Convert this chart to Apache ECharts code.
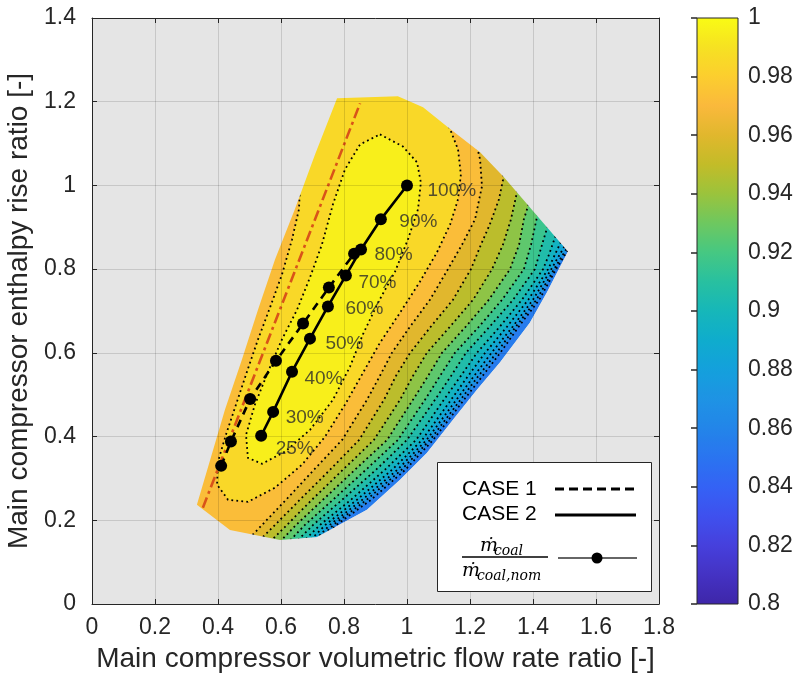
<!DOCTYPE html>
<html><head><meta charset="utf-8">
<script src="https://cdn.jsdelivr.net/npm/echarts@6/dist/echarts.min.js"></script>
<style>html,body{margin:0;padding:0;background:#fff}#c{width:810px;height:682px}</style>
</head><body><div id="c"></div>
<script>
// ---------------- DATA ----------------
const X_RANGE = [0, 1.8];
const Y_RANGE = [0, 1.4];
const COLORBAR_RANGE = [0.8, 1.0];

// Operating points, CASE 1 (dashed) and CASE 2 (solid)
const CASE1 = [[0.410,0.330],[0.441,0.388],[0.502,0.490],[0.584,0.581],[0.670,0.670],[0.752,0.756],[0.832,0.837]];
const CASE2 = [[0.537,0.402],[0.575,0.459],[0.635,0.555],[0.692,0.634],[0.749,0.711],[0.806,0.785],[0.854,0.847],[0.917,0.919],[1.000,1.000]];
const LOAD_LABELS = ['25%','30%','40%','50%','60%','70%','80%','90%','100%'];

// Surge (dash-dot) line
const SURGE_LINE = [[0.352,0.230],[0.851,1.196]];

// Operating envelope of the compressor map
const ENVELOPE = [[0.333,0.237],[0.375,0.344],[0.422,0.464],[0.476,0.584],[0.527,0.703],[0.581,0.823],[0.644,0.943],[0.708,1.074],[0.778,1.208],[0.971,1.213],[1.051,1.187],[1.127,1.141],[1.232,1.079],[1.305,1.022],[1.368,0.967],[1.432,0.911],[1.511,0.842],[1.486,0.806],[1.444,0.744],[1.390,0.672],[1.295,0.577],[1.222,0.512],[1.146,0.440],[1.063,0.361],[0.978,0.297],[0.873,0.225],[0.714,0.160],[0.597,0.153],[0.438,0.177]];

// Efficiency contour lines (one array per level)
const CONTOUR_LEVELS = [0.98,0.97,0.96,0.95,0.94,0.93,0.92,0.91,0.90,0.89,0.88,0.87,0.86];
const C_098 = [[0.914,1.122],[0.987,1.093],[1.032,1.055],[1.044,1.007],[1.035,0.943],[1.003,0.871],[0.962,0.794],[0.908,0.720],[0.860,0.644],[0.819,0.567],[0.765,0.488],[0.692,0.416],[0.613,0.364],[0.540,0.335],[0.495,0.349],[0.489,0.404],[0.517,0.476],[0.559,0.555],[0.603,0.632],[0.651,0.703],[0.692,0.780],[0.730,0.859],[0.765,0.955],[0.803,1.038],[0.851,1.098]];
const C_097 = [[1.121,1.163],[1.137,1.134],[1.162,1.086],[1.171,1.026],[1.162,0.967],[1.137,0.907],[1.095,0.840],[1.041,0.770],[0.978,0.696],[0.914,0.624],[0.857,0.548],[0.803,0.476],[0.740,0.400],[0.667,0.333],[0.581,0.278],[0.495,0.244],[0.432,0.249],[0.397,0.285],[0.400,0.340],[0.425,0.404],[0.457,0.476],[0.492,0.555],[0.527,0.632],[0.565,0.708],[0.603,0.787],[0.635,0.871],[0.657,0.943],[0.660,0.990],[0.644,1.026],[0.613,1.050]];
const C_096 = [[1.219,1.103],[1.232,1.062],[1.238,0.998],[1.216,0.919],[1.175,0.859],[1.130,0.800],[1.073,0.727],[1.010,0.663],[0.952,0.600],[0.914,0.545],[0.873,0.488],[0.794,0.392],[0.705,0.321],[0.616,0.249],[0.540,0.189],[0.470,0.134]];
const C_095 = [[1.305,1.038],[1.305,1.014],[1.292,0.967],[1.263,0.907],[1.235,0.859],[1.203,0.800],[1.146,0.727],[1.076,0.663],[1.010,0.600],[0.965,0.545],[0.927,0.488],[0.848,0.392],[0.756,0.321],[0.660,0.249],[0.581,0.189],[0.508,0.134]];
const C_094 = [[1.352,1.000],[1.349,0.983],[1.330,0.919],[1.305,0.859],[1.270,0.800],[1.210,0.727],[1.137,0.663],[1.063,0.600],[1.019,0.545],[0.978,0.488],[0.895,0.392],[0.797,0.321],[0.698,0.249],[0.619,0.189],[0.546,0.134]];
const C_093 = [[1.390,0.967],[1.384,0.950],[1.371,0.919],[1.356,0.859],[1.327,0.800],[1.260,0.727],[1.187,0.663],[1.111,0.600],[1.067,0.545],[1.019,0.488],[0.937,0.392],[0.835,0.321],[0.733,0.249],[0.648,0.189],[0.578,0.134]];
const C_092 = [[1.422,0.943],[1.413,0.926],[1.394,0.859],[1.371,0.800],[1.302,0.727],[1.229,0.663],[1.152,0.600],[1.105,0.545],[1.057,0.488],[0.971,0.392],[0.870,0.321],[0.765,0.249],[0.676,0.189],[0.606,0.134]];
const C_091 = [[1.454,0.914],[1.444,0.897],[1.429,0.859],[1.406,0.800],[1.337,0.727],[1.263,0.663],[1.187,0.600],[1.140,0.545],[1.089,0.488],[1.000,0.392],[0.902,0.321],[0.794,0.249],[0.702,0.189],[0.629,0.134]];
const C_090 = [[1.479,0.890],[1.470,0.876],[1.451,0.835],[1.432,0.800],[1.365,0.727],[1.295,0.663],[1.222,0.600],[1.171,0.545],[1.117,0.488],[1.029,0.392],[0.930,0.321],[0.822,0.249],[0.724,0.189],[0.651,0.134]];
const C_089 = [[1.495,0.876],[1.486,0.861],[1.448,0.800],[1.385,0.727],[1.318,0.663],[1.248,0.600],[1.194,0.545],[1.140,0.488],[1.048,0.392],[0.953,0.321],[0.841,0.249],[0.741,0.189],[0.669,0.134]];
const C_088 = [[1.508,0.864],[1.498,0.852],[1.458,0.800],[1.400,0.727],[1.336,0.663],[1.268,0.600],[1.213,0.545],[1.157,0.488],[1.062,0.392],[0.970,0.321],[0.858,0.249],[0.755,0.189],[0.684,0.134]];
const C_087 = [[1.517,0.856],[1.505,0.847],[1.467,0.800],[1.411,0.727],[1.346,0.663],[1.284,0.600],[1.227,0.545],[1.170,0.488],[1.073,0.392],[0.983,0.321],[0.872,0.249],[0.766,0.189],[0.696,0.134]];
const C_086 = [[1.524,0.852],[1.508,0.842],[1.473,0.800],[1.420,0.727],[1.355,0.663],[1.296,0.600],[1.240,0.545],[1.181,0.488],[1.083,0.392],[0.995,0.321],[0.886,0.249],[0.776,0.189],[0.707,0.134]];
const ENVELOPE_MIN_LEVEL = 0.85;
// shade value seen inside each region (innermost first)
const BAND_SHADE = [0.995,0.985,0.972,0.960,0.948,0.937,0.926,0.916,0.906,0.896,0.886,0.876,0.866];

// ---------------- STYLE ----------------
const FONT = '"Liberation Sans", Arial, Helvetica, sans-serif';
const MATH = '"DejaVu Serif", "Liberation Serif", serif';
const INK = '#262626';
const PLOT_BG = '#e5e5e5';
const CMAP_STOPS = [
 [0.00,62,38,168],[0.05,68,50,195],[0.10,70,64,220],[0.15,63,80,238],[0.20,52,98,245],[0.25,42,116,240],
 [0.30,35,133,233],[0.35,30,147,228],[0.40,20,160,220],[0.45,15,172,205],[0.50,22,183,185],[0.55,40,192,160],
 [0.60,70,200,130],[0.65,110,200,95],[0.70,155,195,60],[0.75,195,188,40],[0.80,225,183,45],[0.85,250,185,60],
 [0.90,252,206,46],[0.95,246,226,34],[1.00,249,251,20]];
function cmap(v){
  let f = (v - COLORBAR_RANGE[0]) / (COLORBAR_RANGE[1] - COLORBAR_RANGE[0]);
  f = Math.max(0, Math.min(1, f));
  for (let i = 1; i < CMAP_STOPS.length; i++){
    const a = CMAP_STOPS[i-1], b = CMAP_STOPS[i];
    if (f <= b[0]){
      const t = (f - a[0]) / (b[0] - a[0]);
      return 'rgb(' + [1,2,3].map(k => Math.round(a[k] + (b[k]-a[k])*t)).join(',') + ')';
    }
  }
  const l = CMAP_STOPS[CMAP_STOPS.length-1];
  return 'rgb(' + l[1] + ',' + l[2] + ',' + l[3] + ')';
}

const CONTOURS = [C_098, C_097, C_096, C_095, C_094, C_093, C_092, C_091, C_090, C_089, C_088, C_087, C_086];
const LOOP = 0;       // closed innermost contour
const LEFT_EXIT = 1;  // second contour leaves through the left edge

// Region {eff >= level}: contour + closure lying outside the envelope (masked afterwards)
function regionPolygon(i){
  const pts = CONTOURS[i];
  const first = pts[0], last = pts[pts.length-1];
  const lo = -0.3, hiY = 1.7;
  if (i === LOOP) return pts;
  if (i === LEFT_EXIT) return pts.concat([[lo, last[1]], [lo, hiY], [first[0], hiY]]);
  return pts.concat([[last[0], lo], [lo, lo], [lo, hiY], [first[0], hiY]]);
}
const FILL_ORDER = [];
FILL_ORDER.push({poly: () => ENVELOPE, value: (ENVELOPE_MIN_LEVEL + CONTOUR_LEVELS[CONTOUR_LEVELS.length-1]) / 2});
for (let i = CONTOURS.length - 1; i >= 0; i--){
  FILL_ORDER.push({poly: () => regionPolygon(i), value: BAND_SHADE[i]});
}

function maskPolygon(){
  const lo = -0.3, hx = 2.1, hy = 1.7;
  const tip = ENVELOPE[0];
  const rev = [tip].concat(ENVELOPE.slice(1).reverse()).concat([tip]);
  return [[lo, hy], [hx, hy], [hx, lo], [lo, lo], [lo, tip[1]]].concat(rev).concat([[lo, tip[1]]]);
}

const LABEL_OFFSETS = [[14,13],[12,6],[12,7],[15,5],[17,2],[12,7],[13,5],[18,2],[20,5]];
const tickFmt = v => String(+(+v).toFixed(2));

const chart = echarts.init(document.getElementById('c'), null, {renderer: 'canvas'});
const option = {
  animation: false,
  backgroundColor: '#ffffff',
  grid: [
    {left: 92, top: 18, width: 567, height: 586, show: true, backgroundColor: PLOT_BG, borderWidth: 0, containLabel: false, outerBoundsMode: 'none'},
    {left: 697, top: 18, width: 41, height: 586, show: false, containLabel: false, outerBoundsMode: 'none'}
  ],
  xAxis: [
    {gridIndex: 0, type: 'value', min: X_RANGE[0], max: X_RANGE[1], interval: 0.2, position: 'bottom', z: 6,
     axisLine: {show: true, onZero: false, lineStyle: {color: INK, width: 1}},
     axisTick: {show: true, inside: true, length: 5, lineStyle: {color: INK}},
     axisLabel: {show: true, margin: 12, fontSize: 23, color: INK, fontFamily: FONT, formatter: tickFmt, showMinLabel: true, showMaxLabel: true},
     splitLine: {show: true, lineStyle: {color: 'rgba(0,0,0,0.13)', width: 1}},
     name: 'Main compressor volumetric flow rate ratio [-]', nameLocation: 'middle', nameGap: 41,
     nameTextStyle: {fontSize: 28, color: INK, fontFamily: FONT}},
    {gridIndex: 0, type: 'value', min: X_RANGE[0], max: X_RANGE[1], interval: 0.2, position: 'top', z: 6,
     axisLine: {show: true, onZero: false, lineStyle: {color: INK, width: 1}},
     axisTick: {show: true, inside: true, length: 5, lineStyle: {color: INK}},
     axisLabel: {show: false}, splitLine: {show: false}},
    {gridIndex: 1, type: 'value', min: 0, max: 1, show: false}
  ],
  yAxis: [
    {gridIndex: 0, type: 'value', min: Y_RANGE[0], max: Y_RANGE[1], interval: 0.2, position: 'left', z: 6,
     axisLine: {show: true, onZero: false, lineStyle: {color: INK, width: 1}},
     axisTick: {show: true, inside: true, length: 5, lineStyle: {color: INK}},
     axisLabel: {show: true, margin: 16, fontSize: 23, color: INK, fontFamily: FONT, formatter: tickFmt, showMinLabel: true, showMaxLabel: true},
     splitLine: {show: true, lineStyle: {color: 'rgba(0,0,0,0.13)', width: 1}},
     name: 'Main compressor enthalpy rise ratio [-]', nameLocation: 'middle', nameGap: 52,
     nameTextStyle: {fontSize: 28, color: INK, fontFamily: FONT}},
    {gridIndex: 0, type: 'value', min: Y_RANGE[0], max: Y_RANGE[1], interval: 0.2, position: 'right', z: 6,
     axisLine: {show: true, onZero: false, lineStyle: {color: INK, width: 1}},
     axisTick: {show: true, inside: true, length: 5, lineStyle: {color: INK}},
     axisLabel: {show: false}, splitLine: {show: false}},
    {gridIndex: 1, type: 'value', min: COLORBAR_RANGE[0], max: COLORBAR_RANGE[1], interval: 0.02, position: 'right', z: 6,
     axisLine: {show: false},
     axisTick: {show: true, inside: true, length: 6, lineStyle: {color: INK, width: 1.5}},
     axisLabel: {show: true, margin: 10, fontSize: 23, color: INK, fontFamily: FONT, formatter: tickFmt, showMinLabel: true, showMaxLabel: true},
     splitLine: {show: false}}
  ],
  series: [
    { // filled efficiency bands
      type: 'custom', xAxisIndex: 0, yAxisIndex: 0, z: 1, silent: true, clip: true,
      data: FILL_ORDER.map((_, i) => [i]),
      renderItem: (params, api) => {
        const r = FILL_ORDER[params.dataIndex];
        return {type: 'polygon', shape: {points: r.poly().map(p => api.coord(p))}, style: {fill: cmap(r.value), stroke: null}};
      }
    },
    { // dotted contour lines
      type: 'custom', xAxisIndex: 0, yAxisIndex: 0, z: 2, silent: true, clip: true,
      data: CONTOURS.map((_, i) => [i]),
      renderItem: (params, api) => {
        let pts = CONTOURS[params.dataIndex];
        if (params.dataIndex === LOOP) pts = pts.concat([pts[0]]);
        return {type: 'polyline', shape: {points: pts.map(p => api.coord(p))},
                style: {stroke: '#000', lineWidth: 1.8, lineDash: [1.8, 3.2], fill: null}};
      }
    },
    { // mask outside the envelope
      type: 'custom', xAxisIndex: 0, yAxisIndex: 0, z: 3, silent: true, clip: true,
      data: [[0]],
      renderItem: (params, api) => ({type: 'polygon', shape: {points: maskPolygon().map(p => api.coord(p))}, style: {fill: PLOT_BG, stroke: null}})
    },
    { // surge line
      type: 'line', xAxisIndex: 0, yAxisIndex: 0, z: 4, silent: true, data: SURGE_LINE, symbol: 'none',
      lineStyle: {color: '#D95319', width: 2.6, type: [11, 4, 3, 4]}
    },
    { // CASE 1
      type: 'line', name: 'CASE 1', xAxisIndex: 0, yAxisIndex: 0, z: 5, silent: true, data: CASE1,
      symbol: 'circle', symbolSize: 12, itemStyle: {color: '#000'},
      lineStyle: {color: '#000', width: 2.6, type: [8, 6]}
    },
    { // CASE 2
      type: 'line', name: 'CASE 2', xAxisIndex: 0, yAxisIndex: 0, z: 5, silent: true, data: CASE2,
      symbol: 'circle', symbolSize: 12, itemStyle: {color: '#000'},
      lineStyle: {color: '#000', width: 2.6, type: 'solid'}
    },
    { // load labels
      type: 'scatter', xAxisIndex: 0, yAxisIndex: 0, z: 7, silent: true,
      symbolSize: 1, itemStyle: {color: 'rgba(0,0,0,0)'},
      data: CASE2.map((p, i) => ({value: p, label: {formatter: LOAD_LABELS[i], offset: LABEL_OFFSETS[i]}})),
      label: {show: true, position: 'right', distance: 0, fontSize: 19, color: '#2b2b2b', fontFamily: FONT, align: 'left', verticalAlign: 'middle'}
    },
    { // colorbar
      type: 'custom', xAxisIndex: 2, yAxisIndex: 2, z: 1, silent: true,
      data: [COLORBAR_RANGE],
      renderItem: (params, api) => {
        const p0 = api.coord([0, COLORBAR_RANGE[1]]);
        const p1 = api.coord([1, COLORBAR_RANGE[0]]);
        const stops = [];
        for (let k = 0; k <= 60; k++){
          const v = COLORBAR_RANGE[1] - (COLORBAR_RANGE[1] - COLORBAR_RANGE[0]) * k / 60;
          stops.push({offset: k / 60, color: cmap(v)});
        }
        return {type: 'rect', shape: {x: p0[0], y: p0[1], width: p1[0] - p0[0], height: p1[1] - p0[1]},
                style: {fill: new echarts.graphic.LinearGradient(0, 0, 0, 1, stops), stroke: INK, lineWidth: 1}};
      }
    }
  ],
  graphic: {elements: [
    {type: 'rect', z: 100, shape: {x: 437.5, y: 462.5, width: 214, height: 129}, style: {fill: '#fff', stroke: INK, lineWidth: 1}},
    {type: 'text', z: 101, x: 462, y: 489, style: {text: 'CASE 1', fontSize: 21, fontFamily: FONT, fill: '#000', verticalAlign: 'middle'}},
    {type: 'text', z: 101, x: 462, y: 514, style: {text: 'CASE 2', fontSize: 21, fontFamily: FONT, fill: '#000', verticalAlign: 'middle'}},
    {type: 'line', z: 101, shape: {x1: 555, y1: 489, x2: 636, y2: 489}, style: {stroke: '#000', lineWidth: 3, lineDash: [9, 5]}},
    {type: 'line', z: 101, shape: {x1: 555, y1: 515, x2: 636, y2: 515}, style: {stroke: '#000', lineWidth: 3}},
    {type: 'text', z: 101, x: 480, y: 546, style: {text: 'ṁ', fontSize: 19, fontStyle: 'italic', fontFamily: MATH, fill: '#000', verticalAlign: 'middle'}},
    {type: 'text', z: 101, x: 494, y: 551, style: {text: 'coal', fontSize: 14, fontStyle: 'italic', fontFamily: MATH, fill: '#000', verticalAlign: 'middle'}},
    {type: 'line', z: 101, shape: {x1: 462, y1: 557, x2: 548, y2: 557}, style: {stroke: '#000', lineWidth: 1.5}},
    {type: 'text', z: 101, x: 462, y: 571, style: {text: 'ṁ', fontSize: 19, fontStyle: 'italic', fontFamily: MATH, fill: '#000', verticalAlign: 'middle'}},
    {type: 'text', z: 101, x: 477, y: 576, style: {text: 'coal,nom', fontSize: 14, fontStyle: 'italic', fontFamily: MATH, fill: '#000', verticalAlign: 'middle'}},
    {type: 'line', z: 101, shape: {x1: 558, y1: 558, x2: 637, y2: 558}, style: {stroke: '#333', lineWidth: 1.5}},
    {type: 'circle', z: 102, shape: {cx: 597, cy: 558, r: 5.5}, style: {fill: '#000'}}
  ]}
};
chart.setOption(option);
</script>
</body></html>
